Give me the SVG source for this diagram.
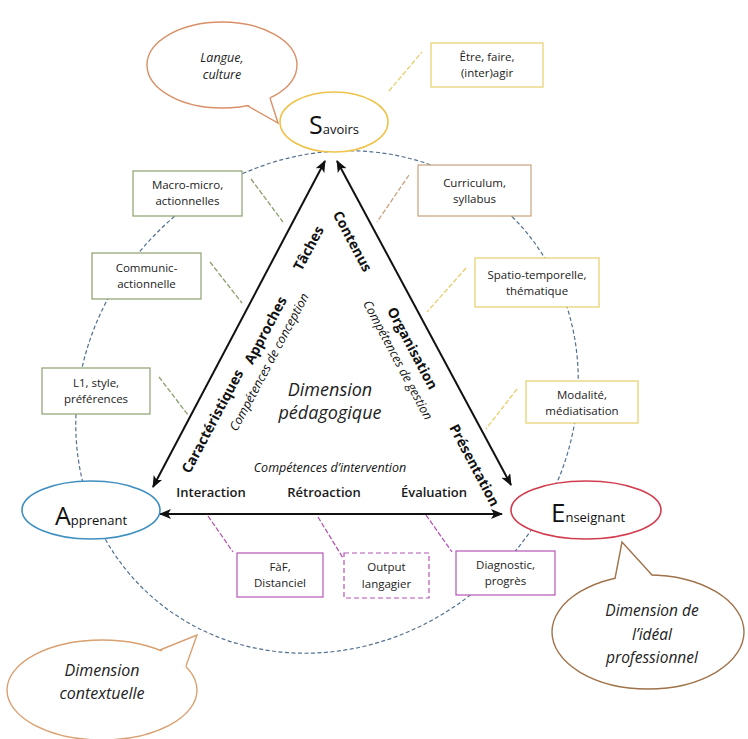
<svg xmlns="http://www.w3.org/2000/svg" width="748" height="739" viewBox="0 0 748 739">
<defs>
<marker id="ah" viewBox="0 0 12 10" refX="11" refY="5" markerWidth="6" markerHeight="5" orient="auto-start-reverse" markerUnits="strokeWidth">
<path d="M0,0 L12,5 L0,10 L3,5 z" fill="#111"/>
</marker>
<style>
.box{fill:#fff;stroke-width:1.2}
.g{stroke:#8da06e}
.y{stroke:#e6cf6a}
.o{stroke:#c9a27e}
.p{stroke:#b455b4}
.bt{font-family:"Open Sans","Liberation Sans",sans-serif;font-size:11.5px;fill:#222;text-anchor:middle}
.lab{font-family:"Open Sans","Liberation Sans",sans-serif;font-size:14px;font-weight:bold;fill:#111;text-anchor:middle;dominant-baseline:central}
.bot{font-family:"Open Sans","Liberation Sans",sans-serif;font-size:13px;font-weight:600;fill:#1a1a1a;text-anchor:middle}
.it{font-family:"Open Sans","Liberation Sans",sans-serif;font-style:italic;fill:#222;text-anchor:middle}
.comp{font-family:"Open Sans","Liberation Sans",sans-serif;font-style:italic;font-size:12.5px;fill:#111;text-anchor:middle;dominant-baseline:central}
.big{font-family:"Open Sans","Liberation Sans",sans-serif;fill:#111}
.tri{stroke:#111;stroke-width:2;fill:none;marker-start:url(#ah);marker-end:url(#ah)}
.lk{stroke-width:1.3;stroke-dasharray:5 2;fill:none}
</style>
</defs>
<rect width="748" height="739" fill="#fff"/>

<g id="cercle">
<ellipse cx="327" cy="402" rx="262" ry="240" transform="rotate(-45 327 402)" fill="none" stroke="#52708f" stroke-width="1.2" stroke-dasharray="4 2.5"/>
</g>

<g id="connecteurs">
<line class="lk y" x1="389" y1="91" x2="422" y2="52"/>
<line class="lk g" x1="251" y1="179" x2="283" y2="222"/>
<line class="lk o" x1="409" y1="175" x2="377" y2="222"/>
<line class="lk g" x1="210" y1="262" x2="242" y2="303"/>
<line class="lk y" x1="466" y1="268" x2="427" y2="312"/>
<line class="lk g" x1="159" y1="377" x2="188" y2="415"/>
<line class="lk y" x1="517" y1="389" x2="486" y2="429"/>
<line class="lk p" x1="208" y1="516" x2="233" y2="552"/>
<line class="lk p" x1="318" y1="517" x2="343" y2="558"/>
<line class="lk p" x1="426" y1="515" x2="452" y2="552"/>
<line class="tri" x1="153" y1="487" x2="325" y2="161"/>
<line class="tri" x1="337" y1="161" x2="511" y2="485"/>
<line class="tri" x1="160" y1="514" x2="502" y2="514"/>
</g>

<g id="labels-triangle">
<text class="lab" transform="translate(212,421) rotate(-62)">Caractéristiques</text>
<text class="lab" transform="translate(265,330) rotate(-62)">Approches</text>
<text class="lab" transform="translate(308,248) rotate(-62)">Tâches</text>
<text class="comp" transform="translate(269,362) rotate(-62)">Compétences de conception</text>
<text class="lab" transform="translate(353,241) rotate(62)">Contenus</text>
<text class="lab" transform="translate(413,348) rotate(62)">Organisation</text>
<text class="comp" transform="translate(398,360) rotate(62)">Compétences de gestion</text>
<text class="lab" transform="translate(475,465) rotate(62)">Présentation</text>
<text class="comp" x="330" y="467">Compétences d’intervention</text>
<text class="bot" x="211" y="497">Interaction</text>
<text class="bot" x="324" y="497">Rétroaction</text>
<text class="bot" x="434" y="497">Évaluation</text>
<text class="it" x="330" y="396" font-size="18">Dimension</text>
<text class="it" x="330" y="419" font-size="18">pédagogique</text>
</g>

<g id="savoirs">
<ellipse cx="334" cy="122" rx="54" ry="30" fill="#fff" stroke="#f0c24a" stroke-width="1.6"/>
<text class="big" x="334" y="134" text-anchor="middle"><tspan font-size="25">S</tspan><tspan font-size="13">avoirs</tspan></text>
</g>

<g id="apprenant">
<ellipse cx="91" cy="510" rx="69" ry="29" fill="#fff" stroke="#3f8fc0" stroke-width="1.6"/>
<text class="big" x="91" y="525" text-anchor="middle"><tspan font-size="25">A</tspan><tspan font-size="13">pprenant</tspan></text>
</g>

<g id="enseignant">
<ellipse cx="586" cy="510" rx="75" ry="29" fill="#fff" stroke="#d13c4e" stroke-width="1.6"/>
<text class="big" x="588" y="522" text-anchor="middle"><tspan font-size="26">E</tspan><tspan font-size="13">nseignant</tspan></text>
</g>

<g id="langue-culture">
<ellipse cx="222" cy="65" rx="75" ry="43" fill="#fff" stroke="#d99068" stroke-width="1.4"/>
<polygon points="247,104 278,123 270,97" fill="#fff"/>
<polyline points="247,105.5 278,123 270,98" fill="none" stroke="#d99068" stroke-width="1.4"/>
<text class="it" x="222" y="62" font-size="12.5">Langue,</text>
<text class="it" x="222" y="79" font-size="12.5">culture</text>
</g>

<g id="ideal-professionnel">
<ellipse cx="648" cy="632" rx="96" ry="57" fill="#fff" stroke="#a0734a" stroke-width="1.4"/>
<polygon points="615,580 622,542 652,576" fill="#fff"/>
<polyline points="615,578.5 622,542 652,575" fill="none" stroke="#a0734a" stroke-width="1.4"/>
<text class="it" x="652" y="616" font-size="15.5">Dimension de</text>
<text class="it" x="652" y="640" font-size="15.5">l’idéal</text>
<text class="it" x="652" y="663" font-size="15.5">professionnel</text>
</g>

<g id="contextuelle">
<ellipse cx="102" cy="690" rx="95" ry="50" fill="#fff" stroke="#d9a070" stroke-width="1.4"/>
<polygon points="160,652 197,635 186,667" fill="#fff"/>
<polyline points="160,650 197,635 186,666" fill="none" stroke="#d9a070" stroke-width="1.4"/>
<text class="it" x="102" y="676" font-size="16">Dimension</text>
<text class="it" x="102" y="699" font-size="16">contextuelle</text>
</g>

<g id="etre-faire">
<rect class="box y" x="431" y="43" width="112" height="44"/>
<text class="bt" x="487" y="61">Être, faire,</text>
<text class="bt" x="487" y="77">(inter)agir</text>
</g>
<g id="macro-micro">
<rect class="box g" x="133" y="171" width="109" height="45"/>
<text class="bt" x="187.5" y="189">Macro-micro,</text>
<text class="bt" x="187.5" y="205">actionnelles</text>
</g>
<g id="curriculum">
<rect class="box o" x="418" y="165" width="113" height="51"/>
<text class="bt" x="474.5" y="187">Curriculum,</text>
<text class="bt" x="474.5" y="203">syllabus</text>
</g>
<g id="communic">
<rect class="box g" x="92" y="253" width="109" height="46"/>
<text class="bt" x="146.5" y="272">Communic-</text>
<text class="bt" x="146.5" y="288">actionnelle</text>
</g>
<g id="spatio">
<rect class="box y" x="475" y="258" width="124" height="49"/>
<text class="bt" x="537" y="279">Spatio-temporelle,</text>
<text class="bt" x="537" y="295">thématique</text>
</g>
<g id="l1">
<rect class="box g" x="42" y="368" width="108" height="46"/>
<text class="bt" x="96" y="387">L1, style,</text>
<text class="bt" x="96" y="403">préférences</text>
</g>
<g id="modalite">
<rect class="box y" x="526" y="381" width="112" height="42"/>
<text class="bt" x="582" y="399">Modalité,</text>
<text class="bt" x="582" y="415">médiatisation</text>
</g>
<g id="faf">
<rect class="box p" x="237" y="553" width="86" height="44"/>
<text class="bt" x="280" y="571">FàF,</text>
<text class="bt" x="280" y="587">Distanciel</text>
</g>
<g id="output">
<rect class="box p" x="344" y="553" width="85" height="45" stroke-dasharray="5 3"/>
<text class="bt" x="386.5" y="571">Output</text>
<text class="bt" x="386.5" y="588">langagier</text>
</g>
<g id="diagnostic">
<rect class="box p" x="456" y="551" width="99" height="44"/>
<text class="bt" x="505.5" y="569">Diagnostic,</text>
<text class="bt" x="505.5" y="585">progrès</text>
</g>
</svg>
